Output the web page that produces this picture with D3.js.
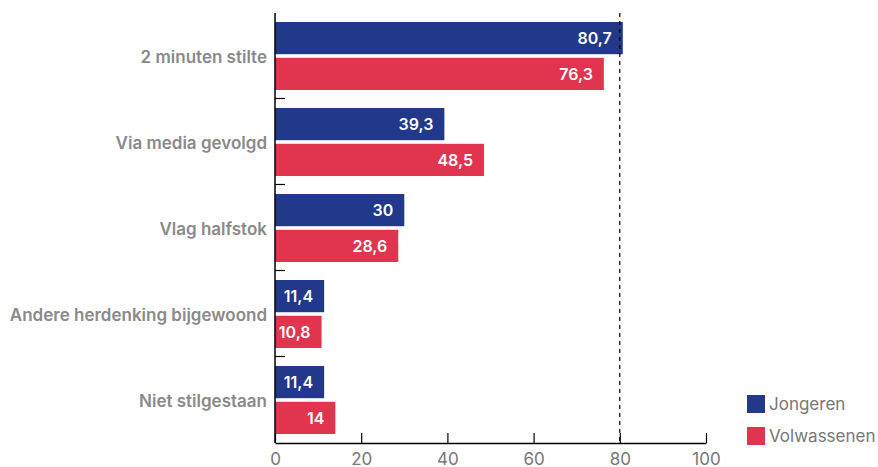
<!DOCTYPE html>
<html>
<head>
<meta charset="utf-8">
<title>Herdenking</title>
<script src="https://d3js.org/d3.v7.min.js"></script>
<style>
  body { margin: 0; background: #fff; }
  svg text { font-family: Inter, "Noto Sans", sans-serif; }
</style>
</head>
<body>
<div id="chart"></div>
<script>
// Data
const categories = ["2 minuten stilte", "Via media gevolgd", "Vlag halfstok", "Andere herdenking bijgewoond", "Niet stilgestaan"];
const seriesNames = ["Jongeren", "Volwassenen"];
const jongeren = [80.7, 39.3, 30, 11.4, 11.4];
const volwassenen = [76.3, 48.5, 28.6, 10.8, 14];
const xTicks = [0, 20, 40, 60, 80, 100];
const refLine = 80;

const colors = { Jongeren: "#21388b", Volwassenen: "#e1344f" };

const width = 878, height = 467;
const margin = { top: 13, left: 275, right: 172, bottom: 24 };
const plotW = width - margin.left - margin.right;
const plotH = height - margin.top - margin.bottom;

const svg = d3.select("#chart").append("svg")
  .attr("width", width)
  .attr("height", height);

const g = svg.append("g").attr("transform", `translate(${margin.left},${margin.top})`);

const x = d3.scaleLinear().domain([0, 100]).range([0, plotW]);
const y0 = d3.scaleBand().domain(categories).range([0, plotH]).padding(0);
const y1 = d3.scaleBand().domain(seriesNames).range([9, y0.bandwidth() - 9]).paddingInner(0.1);

const rows = categories.map((c, i) => ({ cat: c, values: [
  { key: "Jongeren", value: jongeren[i] },
  { key: "Volwassenen", value: volwassenen[i] }
]}));

// Bars
const groups = g.selectAll("g.row").data(rows).enter().append("g")
  .attr("class", "row")
  .attr("transform", d => `translate(0,${y0(d.cat)})`);

groups.selectAll("rect").data(d => d.values).enter().append("rect")
  .attr("x", 0)
  .attr("y", d => y1(d.key))
  .attr("width", d => x(d.value))
  .attr("height", y1.bandwidth())
  .attr("fill", d => colors[d.key]);

groups.selectAll("text.val").data(d => d.values).enter().append("text")
  .attr("class", "val")
  .attr("x", d => x(d.value) - 11)
  .attr("y", d => y1(d.key) + y1.bandwidth() / 2)
  .attr("dy", "0.38em")
  .attr("text-anchor", "end")
  .attr("fill", "#fff")
  .attr("font-size", 16)
  .attr("font-weight", 600)
  .text(d => String(d.value).replace(".", ","));

// Reference line at 80
g.append("line")
  .attr("x1", x(refLine)).attr("x2", x(refLine))
  .attr("y1", 0).attr("y2", plotH)
  .attr("stroke", "#000")
  .attr("stroke-width", 1.2)
  .attr("stroke-dasharray", "4,4");

// Y axis
const yAxis = g.append("g");
yAxis.append("line")
  .attr("x1", 0).attr("x2", 0).attr("y1", 0).attr("y2", plotH)
  .attr("stroke", "#000").attr("stroke-width", 1.5);
yAxis.selectAll("line.tick").data(categories.slice(1)).enter().append("line")
  .attr("class", "tick")
  .attr("x1", 0).attr("x2", 10)
  .attr("y1", d => y0(d) - 0.5).attr("y2", d => y0(d) - 0.5)
  .attr("stroke", "#000").attr("stroke-width", 1.2);
yAxis.selectAll("text").data(categories).enter().append("text")
  .attr("x", -8)
  .attr("y", d => y0(d) + y0.bandwidth() / 2)
  .attr("dy", "0.42em")
  .attr("text-anchor", "end")
  .attr("fill", "#8a8a8a")
  .attr("font-size", 17)
  .attr("font-weight", 600)
  .text(d => d);

// X axis
const xAxis = g.append("g").attr("transform", `translate(0,${plotH})`)
  .call(d3.axisBottom(x).tickValues(xTicks).tickSize(-10).tickPadding(8).tickSizeOuter(0));
xAxis.select(".domain").attr("stroke", "#000").attr("stroke-width", 1.5);
xAxis.selectAll(".tick line").attr("stroke", "#000").attr("stroke-width", 1.2);
xAxis.selectAll(".tick text")
  .attr("y", 22)
  .attr("dy", null)
  .attr("fill", "#777")
  .attr("font-size", 17)
  .style("font-family", "Inter, sans-serif");

// Legend
const legend = svg.append("g").attr("transform", "translate(747,395)");
const li = legend.selectAll("g").data(seriesNames).enter().append("g")
  .attr("transform", (d, i) => `translate(0,${i * 32})`);
li.append("rect").attr("width", 18).attr("height", 18).attr("fill", d => colors[d]);
li.append("text")
  .attr("x", 22).attr("y", 9).attr("dy", "0.36em")
  .attr("fill", "#777")
  .attr("font-size", 17)
  .text(d => d);
</script>
</body>
</html>
